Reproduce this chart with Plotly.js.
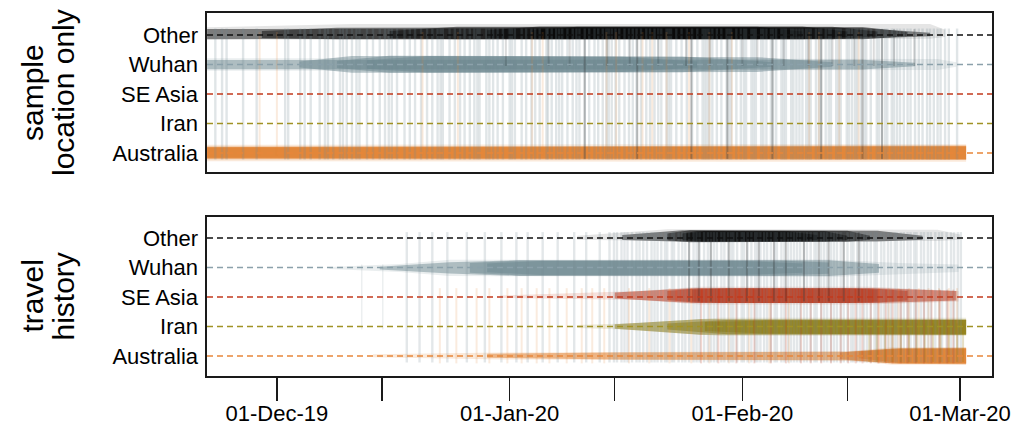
<!DOCTYPE html>
<html>
<head>
<meta charset="utf-8">
<script src="https://cdn.plot.ly/plotly-3.0.1.min.js"></script>
<style>
  html, body { margin: 0; padding: 0; background: #ffffff; }
  #chart { width: 1013px; height: 433px; }
</style>
</head>
<body>
<div id="chart"></div>
<script>
// ---- categories and axis labels ----------------------------------------
const locations = ['Australia', 'Iran', 'SE Asia', 'Wuhan', 'Other'];   // y = 1..5
const tickDays  = [0, 14, 31, 45, 62, 76, 91];                           // days after 01-Dec-19
const tickText  = ['01-Dec-19', '', '01-Jan-20', '', '01-Feb-20', '', '01-Mar-20'];
const panelTitles = [['sample', 'location only'], ['travel', 'history']];

// ---- lineage density bands (days after 01-Dec-19, upper / lower edge) ----
// panel 1: sample location only
const sampleOtherDays = [[-9.3, 10, 87, 89], [-9.3, 78, 87], [-2, 8, 78, 84], [15, 24, 74, 80], [28, 35, 70, 76], [34, 40, 64, 70]];
const sampleOtherHi   = [[5.26, 5.37, 5.37, 5.18], [5.2, 5.24, 5.08], [5.14, 5.25, 5.27, 5.1], [5.14, 5.28, 5.28, 5.12], [5.16, 5.29, 5.29, 5.12], [5.16, 5.28, 5.28, 5.12]];
const sampleOtherLo   = [[4.85, 4.83, 4.87, 4.93], [4.86, 4.87, 4.96], [4.9, 4.86, 4.86, 4.96], [4.9, 4.86, 4.86, 4.95], [4.9, 4.86, 4.86, 4.93], [4.9, 4.87, 4.87, 4.93]];

const sampleWuhanDays = [[-9.3, 88, 90.5], [-9.3, 78, 85], [3, 10, 64, 74], [8, 15, 54, 66], [12, 20, 46, 56]];
const sampleWuhanHi   = [[4.21, 4.19, 4.08], [4.15, 4.16, 4.06], [4.1, 4.29, 4.25, 4.08], [4.12, 4.3, 4.27, 4.08], [4.14, 4.29, 4.26, 4.1]];
const sampleWuhanLo   = [[3.79, 3.81, 3.92], [3.84, 3.83, 3.94], [3.9, 3.72, 3.75, 3.92], [3.88, 3.72, 3.74, 3.92], [3.86, 3.73, 3.75, 3.9]];

const sampleAusDays = [[-9.3, 91.8], [-9.3, 91.8], [-9.3, 91.8], [-9.3, 91.8]];
const sampleAusHi   = [[1.28, 1.3], [1.22, 1.25], [1.2, 1.23], [1.18, 1.22]];
const sampleAusLo   = [[0.72, 0.7], [0.79, 0.76], [0.82, 0.79], [0.84, 0.8]];

// panel 2: travel history
const travelOtherDays = [[40, 52, 88, 91], [46, 54, 80, 86], [52, 55, 76, 79], [54, 56, 73, 76], [54.5, 57, 68, 72]];
const travelOtherHi   = [[5.08, 5.3, 5.28, 5.12], [5.1, 5.26, 5.25, 5.08], [5.15, 5.26, 5.25, 5.08], [5.15, 5.24, 5.23, 5.08], [5.15, 5.23, 5.22, 5.1]];
const travelOtherLo   = [[4.94, 4.9, 4.9, 4.94], [4.93, 4.87, 4.88, 4.94], [4.92, 4.86, 4.87, 4.94], [4.92, 4.87, 4.88, 4.93], [4.92, 4.88, 4.89, 4.93]];

const travelWuhanDays = [[7.0, 16.4, 23.0, 73.5, 82.8, 90.8], [13.7, 23.0, 32.3, 73.5, 80.2], [25.7, 32.3, 66.9, 73.5], [28, 35, 62, 70]];
const travelWuhanHi   = [[4.02, 4.12, 4.26, 4.27, 4.15, 4.1], [4.03, 4.18, 4.25, 4.25, 4.12], [4.15, 4.24, 4.24, 4.17], [4.14, 4.22, 4.22, 4.14]];
const travelWuhanLo   = [[3.95, 3.85, 3.71, 3.68, 3.78, 3.85], [3.93, 3.8, 3.71, 3.71, 3.82], [3.82, 3.73, 3.73, 3.79], [3.84, 3.75, 3.75, 3.82]];

const travelSeaDays = [[29.7, 48.3, 56.3, 78.9, 90.8], [45, 55.3, 80, 90.5], [52, 56.3, 78.9, 84], [55.3, 60, 76, 80]];
const travelSeaHi   = [[3.05, 3.2, 3.35, 3.35, 3.2], [3.15, 3.3, 3.3, 3.2], [3.2, 3.3, 3.3, 3.2], [3.25, 3.3, 3.3, 3.25]];
const travelSeaLo   = [[2.97, 2.9, 2.75, 2.75, 2.85], [2.95, 2.8, 2.8, 2.88], [2.9, 2.8, 2.8, 2.88], [2.85, 2.8, 2.8, 2.85]];

const travelIranDays = [[40, 48.3, 58.9, 91.8], [45, 56.3, 91.8], [52, 60, 91.8], [57, 65, 91.8]];
const travelIranHi   = [[2.05, 2.12, 2.3, 2.3], [2.08, 2.25, 2.25], [2.1, 2.22, 2.22], [2.15, 2.2, 2.22]];
const travelIranLo   = [[1.95, 1.88, 1.68, 1.68], [1.92, 1.72, 1.72], [1.9, 1.74, 1.74], [1.85, 1.76, 1.72]];

const travelAusDays = [[12.8, 30, 76, 82, 91.8], [28, 45, 76, 83, 91.8], [75, 82, 91.8], [77.5, 83, 91.8]];
const travelAusHi   = [[1.06, 1.12, 1.16, 1.3, 1.3], [1.08, 1.12, 1.14, 1.27, 1.28], [1.12, 1.25, 1.26], [1.15, 1.24, 1.25]];
const travelAusLo   = [[0.96, 0.88, 0.84, 0.7, 0.7], [0.94, 0.88, 0.86, 0.74, 0.72], [0.9, 0.75, 0.74], [0.92, 0.76, 0.76]];

// ---- location transitions (day of jump; span between levels) --------------
const sampleJumpDays = [-8.2, -7.3, -6.7, -4.5, -2.7, 1.1, 1.5, 3.1, 3.7, 4.5, 5.7, 6.4, 6.8, 7.5, 8.4, 8.8, 9.3, 10.0,
  10.6, 11.0, 12.0, 12.8, 13.7, 14.4, 14.9, 15.3, 16.0, 17.0, 17.7, 18.4, 19.2, 20.0, 20.7, 21.4, 21.8, 22.1, 23.0, 23.7,
  24.4, 25.0, 25.7, 26.3, 26.7, 27.0, 27.9, 28.3, 28.8, 29.4, 30.1, 31.0, 31.3, 31.7, 32.6, 33.2, 33.9, 34.4, 35.0, 35.9,
  36.1, 36.6, 37.2, 37.6, 38.0, 38.7, 39.4, 39.9, 40.3, 41.0, 41.6, 42.3, 42.8, 43.4, 43.9, 44.2, 44.6, 45.1, 45.6, 46.3,
  46.9, 47.4, 47.9, 48.5, 49.2, 49.7, 50.3, 50.8, 51.2, 51.9, 52.2, 52.5, 53.2, 53.9, 54.6, 55.3, 56.0, 56.7, 57.0, 57.3,
  57.6, 58.0, 58.6, 59.2, 59.9, 60.2, 60.5, 61.2, 61.8, 62.2, 62.5, 63.2, 63.5, 63.8, 64.5, 64.8, 65.2, 65.8, 66.1, 66.5,
  67.2, 67.5, 67.8, 68.5, 68.8, 69.2, 69.6, 70.0, 70.5, 70.8, 71.1, 71.8, 72.2, 72.5, 73.1, 73.5, 73.8, 74.5, 74.8, 75.1,
  75.9, 76.2, 76.6, 77.0, 77.3, 77.8, 78.2, 78.5, 79.1, 79.9, 80.2, 80.6, 81.0, 81.3, 81.9, 82.2, 82.6, 83.0, 83.5, 84.0,
  84.4, 85.0, 85.5, 86.0, 86.6, 87.0, 87.5, 88.0, 88.4, 89.0, 89.5, 90.6];
const sampleJumpSpan = [5.22, 0.78];
const sampleDarkDays = [41.0, 48.0, 55.2, 60.0, 66.0, 72.5, 78.0, 80.6];
const sampleDarkSpan = [5.2, 0.8];
const sampleShortDays = [30.5, 36.2, 39.0, 44.0, 47.0, 50.8, 54.5, 57.7, 62.0, 64.0, 67.5, 70.8, 74.0, 76.9, 79.5, 82.2, 84.9];
const sampleShortSpan = [5.2, 3.95];
const sampleAusJumpDays = [-2.3, 0.0, 19.4, 24.1, 34.0, 35.4, 43.9, 45.2, 48.7, 50.0, 51.9, 54.9, 57.6, 60.6, 70.9, 72.2, 74.9, 77.5];
const sampleAusJumpSpan = [5.1, 0.9];

const travelJumpDays = [17.3, 19.0, 20.7, 22.7, 25.3, 27.7, 29.9, 31.9, 33.4, 35.4, 37.4, 39.6, 41.2, 43.0, 44.3, 44.9,
  45.3, 45.9, 46.3, 46.7, 47.3, 47.9, 48.3, 48.8, 49.3, 49.9, 50.3, 50.7, 51.2, 51.7, 52.0, 52.6, 52.9, 53.5, 54.0, 54.4,
  54.9, 55.5, 55.9, 56.3, 56.9, 57.4, 57.8, 58.2, 58.6, 59.2, 59.6, 60.1, 60.5, 60.8, 61.3, 61.9, 62.2, 62.7, 63.2, 63.7,
  64.0, 64.4, 64.9, 65.3, 65.8, 66.3, 66.6, 67.2, 67.6, 68.1, 68.5, 68.9, 69.3, 69.7, 70.2, 70.6, 71.1, 71.6, 71.9, 72.5,
  72.9, 73.3, 73.8, 74.2, 74.6, 75.1, 75.5, 76.0, 76.5, 76.8, 77.3, 77.7, 78.2, 78.6, 79.1, 79.6, 79.9, 80.5, 80.9, 81.4,
  81.8, 82.3, 82.6, 83.1, 83.5, 84.0, 84.4, 84.9, 85.2, 85.8, 86.2, 86.7, 87.1, 87.7, 88.2, 88.6, 89.2, 89.8, 90.2, 90.7, 91.1];
const travelJumpSpan = [5.2, 0.78];
const travelEarlyDays = [11.3, 14.1];
const travelEarlySpan = [4.1, 1.9];
const travelDarkDays = [54.9, 56.2, 57.8, 60.2, 62.6, 64.2, 66.2, 67.8, 70.2, 72.2, 73.5, 75.5, 77.5];
const travelDarkSpan = [5.2, 2.85];
const travelSeaJumpDays = [56.5, 58.8, 61.2, 63.6, 65.8, 67.8, 69.8, 71.1, 72.5, 73.8, 75.1, 76.1, 77.1, 78.0, 79.1, 80.1,
  81.1, 82.0, 83.1, 84.0, 85.1, 86.2, 87.2, 88.3, 89.3, 90.1];
const travelSeaJumpSpan = [3.25, 0.75];
const travelAusJumpDays = [21.7, 23.9, 26.6, 28.3, 30.7, 32.6, 34.6, 36.3, 38.6, 40.6, 42.0, 43.6, 46.9, 49.6, 52.3, 55.2,
  57.6, 60.2, 62.9, 65.6, 68.2, 80.2, 81.5, 82.8, 84.2, 85.5, 86.8, 88.2, 89.5, 90.6];
const travelAusJumpSpan = [3.3, 0.75];
const travelIranJumpDays = [78.9, 79.9, 81.0, 82.0, 83.1, 84.2, 85.2, 86.3, 87.4, 88.4, 89.5, 90.6, 91.4];
const travelIranJumpSpan = [2.1, 0.8];

// ---- styling ---------------------------------------------------------------
const FONT = "'Liberation Sans', Arial, Helvetica, sans-serif";
const COL = {
  Other: '0,0,0',
  Wuhan: '106,134,143',
  'SE Asia': '188,45,15',
  Iran: '138,120,8',
  Australia: '222,116,27'
};
const DASH_COL = {
  Other: '#111111',
  Wuhan: '#8ba1aa',
  'SE Asia': '#c23a1c',
  Iran: '#a19224',
  Australia: '#e8873a'
};
const BAND_ALPHA = { Other: 0.46, Wuhan: 0.47, 'SE Asia': 0.5, Iran: 0.5, Australia: 0.45 };
const HALO_ALPHA = { Other: 0.1, Wuhan: 0.14, 'SE Asia': 0.14, Iran: 0.14, Australia: 0.16 };

const ORIGIN = Date.UTC(2019, 11, 1);
const DAY_MS = 86400000;
function toDate(d) {
  return new Date(ORIGIN + d * DAY_MS).toISOString().replace('T', ' ').slice(0, 19);
}
const X_RANGE = [toDate(-9.31), toDate(95.25)];

function bandTraces(daysList, hiList, loList, loc, xa, ya) {
  return daysList.map((days, i) => {
    const rev = days.slice().reverse();
    return {
      type: 'scatter', mode: 'lines', xaxis: xa, yaxis: ya,
      x: days.concat(rev).map(toDate),
      y: hiList[i].concat(loList[i].slice().reverse()),
      fill: 'toself',
      fillcolor: 'rgba(' + COL[loc] + ',' + (i === 0 ? HALO_ALPHA[loc] : BAND_ALPHA[loc]) + ')',
      line: { width: 0, color: 'rgba(0,0,0,0)' },
      hoverinfo: 'skip', showlegend: false
    };
  });
}

function jumpTrace(days, span, rgba, width, xa, ya) {
  const x = [], y = [];
  days.forEach(d => { x.push(toDate(d), toDate(d), null); y.push(span[0], span[1], null); });
  return {
    type: 'scatter', mode: 'lines', xaxis: xa, yaxis: ya, x, y,
    line: { color: rgba, width: width }, connectgaps: false,
    hoverinfo: 'skip', showlegend: false
  };
}

const traces = [].concat(
  // panel 1
  bandTraces(sampleWuhanDays, sampleWuhanHi, sampleWuhanLo, 'Wuhan', 'x', 'y'),
  bandTraces(sampleAusDays, sampleAusHi, sampleAusLo, 'Australia', 'x', 'y'),
  bandTraces(sampleOtherDays, sampleOtherHi, sampleOtherLo, 'Other', 'x', 'y'),
  [
    jumpTrace(sampleJumpDays, sampleJumpSpan, 'rgba(115,135,145,0.22)', 2.4, 'x', 'y'),
    jumpTrace(sampleShortDays, sampleShortSpan, 'rgba(0,0,0,0.14)', 2, 'x', 'y'),
    jumpTrace(sampleDarkDays, sampleDarkSpan, 'rgba(40,40,40,0.28)', 2, 'x', 'y'),
    jumpTrace(sampleAusJumpDays, sampleAusJumpSpan, 'rgba(226,130,50,0.16)', 2, 'x', 'y')
  ],
  // panel 2
  bandTraces(travelWuhanDays, travelWuhanHi, travelWuhanLo, 'Wuhan', 'x2', 'y2'),
  bandTraces(travelAusDays, travelAusHi, travelAusLo, 'Australia', 'x2', 'y2'),
  bandTraces(travelIranDays, travelIranHi, travelIranLo, 'Iran', 'x2', 'y2'),
  bandTraces(travelSeaDays, travelSeaHi, travelSeaLo, 'SE Asia', 'x2', 'y2'),
  bandTraces(travelOtherDays, travelOtherHi, travelOtherLo, 'Other', 'x2', 'y2'),
  [
    jumpTrace(travelEarlyDays, travelEarlySpan, 'rgba(120,140,150,0.14)', 1.5, 'x2', 'y2'),
    jumpTrace(travelJumpDays, travelJumpSpan, 'rgba(115,135,145,0.2)', 2.4, 'x2', 'y2'),
    jumpTrace(travelAusJumpDays, travelAusJumpSpan, 'rgba(226,130,50,0.16)', 2, 'x2', 'y2'),
    jumpTrace(travelSeaJumpDays, travelSeaJumpSpan, 'rgba(190,55,25,0.2)', 2, 'x2', 'y2'),
    jumpTrace(travelIranJumpDays, travelIranJumpSpan, 'rgba(150,125,20,0.25)', 2, 'x2', 'y2'),
    jumpTrace(travelDarkDays, travelDarkSpan, 'rgba(30,30,30,0.25)', 2, 'x2', 'y2')
  ]
);

// dashed reference line for every location in both panels
const shapes = [];
['y', 'y2'].forEach(ya => {
  locations.forEach((loc, i) => {
    shapes.push({
      type: 'line', xref: (ya === 'y' ? 'x' : 'x2') + ' domain', yref: ya,
      x0: 0, x1: 1, y0: i + 1, y1: i + 1,
      line: { color: DASH_COL[loc], width: 1.6, dash: '6px,4px' },
      layer: 'above'
    });
  });
});

const FRAME = { showline: true, mirror: true, linecolor: '#1a1a1a', linewidth: 1.6, showgrid: false, zeroline: false };
const yBase = Object.assign({}, FRAME, {
  tickmode: 'array', tickvals: [1, 2, 3, 4, 5], ticktext: locations,
  ticks: '', ticklabelstandoff: 3,
  tickfont: { family: FONT, size: 22, color: '#000' }, fixedrange: true
});

const annotations = [];
[[0.7796, 0], [0.219, 1]].forEach(([yc, p]) => {
  panelTitles[p].forEach((line, j) => {
    annotations.push({
      xref: 'paper', yref: 'paper', x: j === 0 ? -0.2229 : -0.1834, y: yc,
      text: line, textangle: -90, showarrow: false,
      xanchor: 'center', yanchor: 'middle',
      font: { family: FONT, size: 30, color: '#000' }
    });
  });
});

const layout = {
  width: 1013, height: 433,
  margin: { l: 207, r: 21, t: 13, b: 57, pad: 0 },
  paper_bgcolor: '#ffffff', plot_bgcolor: '#ffffff',
  showlegend: false,
  font: { family: FONT, color: '#000' },
  xaxis: Object.assign({}, FRAME, { type: 'date', anchor: 'y', range: X_RANGE, showticklabels: false, ticks: '', fixedrange: true }),
  xaxis2: Object.assign({}, FRAME, {
    type: 'date', anchor: 'y2', range: X_RANGE,
    tickmode: 'array', tickvals: tickDays.map(toDate), ticktext: tickText,
    ticks: 'outside', ticklen: 23, tickwidth: 1.4, tickcolor: '#1a1a1a', ticklabelstandoff: -6,
    tickfont: { family: FONT, size: 22, color: '#000' }, fixedrange: true
  }),
  yaxis: Object.assign({}, yBase, { anchor: 'x', domain: [0.562, 1], range: [0.356, 5.746] }),
  yaxis2: Object.assign({}, yBase, { anchor: 'x2', domain: [0, 0.438], range: [0.322, 5.712] }),
  shapes: shapes,
  annotations: annotations
};

Plotly.newPlot('chart', traces, layout, { staticPlot: true, displayModeBar: false });
</script>
</body>
</html>
